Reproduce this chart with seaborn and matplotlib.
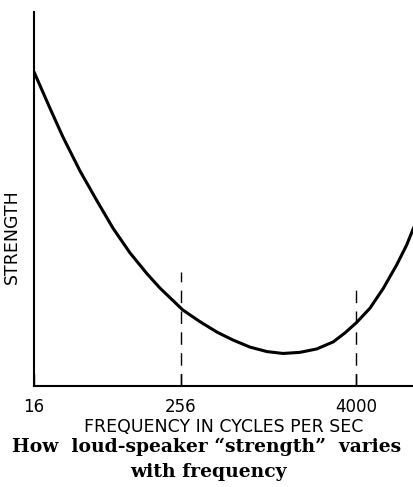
import numpy as np
import pandas as pd
import matplotlib
matplotlib.use("Agg")
import matplotlib.pyplot as plt
import seaborn as sns

# Loud-speaker response: frequency (cycles per sec) and relative strength
frequency = [16, 21.6, 27.6, 38.1, 52.5, 71, 97.8, 135, 172, 264, 345, 451,
             579, 757, 989, 1271, 1660, 2157, 2800, 3366, 4045, 4984, 6144,
             7586, 8870, 9750, 10940]
strength = [84.0, 74.3, 66.6, 57.5, 49.5, 42.2, 35.6, 30.0, 26.2, 20.3, 17.2,
            14.4, 12.3, 10.4, 9.2, 8.7, 9.0, 9.9, 11.8, 14.2, 17.0, 20.8,
            26.1, 32.4, 37.7, 41.7, 46.3]

tick_freqs = [16, 256, 4000]
tick_labels = ["16", "256", "4000"]

# marker lines at the two reference frequencies and the strength they reach
marker_freqs = [256, 4000]
marker_tops = [30.5, 25.7]

df = pd.DataFrame({"frequency": frequency, "strength": strength})

sns.set_theme(style="white")
plt.rcParams["font.family"] = ["DejaVu Sans"]
plt.rcParams["text.color"] = "black"
plt.rcParams["axes.labelcolor"] = "black"
plt.rcParams["xtick.color"] = "black"

fig = plt.figure(figsize=(4.13, 4.87), dpi=100)
ax = fig.add_axes([34 / 413, 1 - 386 / 487, 379 / 413, 374 / 487])


# hand-drawn frequency axis: logarithmic, with a wider step above 256 c/s
def fwd(f):
    l = np.log2(np.clip(np.asarray(f, dtype=float), 1e-9, None))
    return np.where(l <= 8, (l - 4) * 36.75, 147 + (l - 8) * 44.13)


def inv(p):
    p = np.asarray(p, dtype=float)
    l = np.where(p <= 147, 4 + p / 36.75, 8 + (p - 147) / 44.13)
    return 2.0 ** l


ax.set_xscale("function", functions=(fwd, inv))

sns.lineplot(data=df, x="frequency", y="strength", color="black",
             linewidth=2.2, ax=ax, sort=False)
for line in ax.get_lines():
    line.set_solid_joinstyle("round")
    line.set_solid_capstyle("round")

for f, top in zip(marker_freqs, marker_tops):
    ax.plot([f, f], [0, top], color="black", linewidth=1.0,
            linestyle=(0, (9, 6)))

ax.set_xlim(16, 9800)
ax.set_ylim(0, 100)

ax.set_xticks(tick_freqs)
ax.set_xticklabels(tick_labels, fontsize=12)
ax.minorticks_off()
ax.tick_params(axis="x", direction="in", length=9, width=1, color="black",
               labelcolor="black", pad=9, bottom=True)
ax.set_yticks([])

for side in ["top", "right"]:
    ax.spines[side].set_visible(False)
for side in ["left", "bottom"]:
    ax.spines[side].set_color("black")
    ax.spines[side].set_linewidth(1.5)

ax.set_xlabel("FREQUENCY IN CYCLES PER SEC", fontsize=12.5, labelpad=1,
              color="black")
ax.set_ylabel("STRENGTH", fontsize=12.5, color="black")
ax.yaxis.set_label_coords(-0.035, 0.40)

fig.text(207 / 413, 1 - 447 / 487,
         "How  loud-speaker \u201cstrength\u201d  varies",
         ha="center", va="center", fontsize=13.5, fontweight="bold",
         family="DejaVu Serif", color="black")
fig.text(208 / 413, 1 - 472 / 487, "with frequency",
         ha="center", va="center", fontsize=13.5, fontweight="bold",
         family="DejaVu Serif", color="black")

fig.savefig("out.png", dpi=100, facecolor="white")
